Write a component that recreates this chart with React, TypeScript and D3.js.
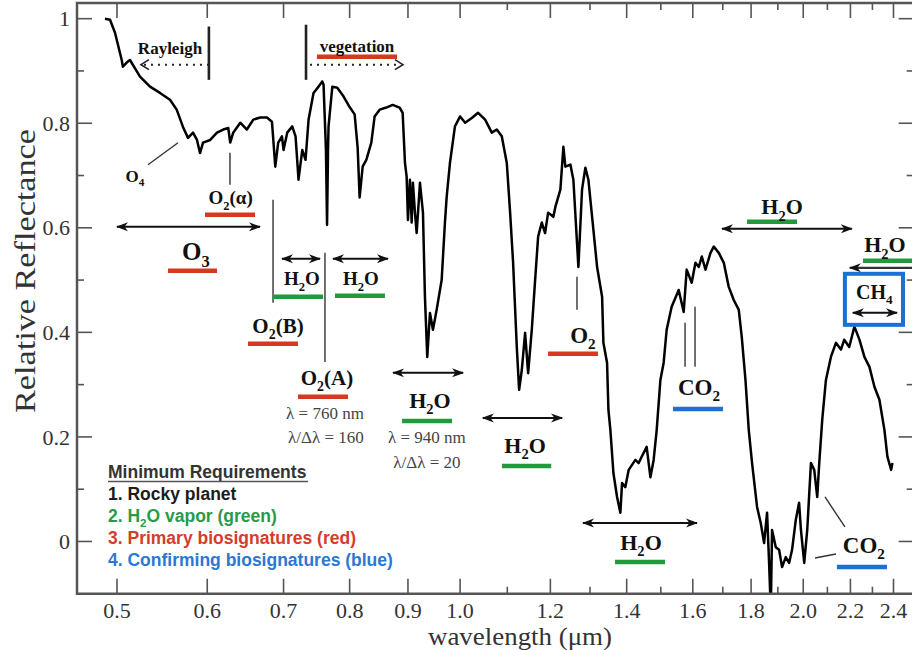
import React from 'react';
import * as d3 from 'd3';

// ---- spectrum (wavelength in µm, relative reflectance) ----
const wavelength = [
  0.488, 0.493, 0.498, 0.5048, 0.506, 0.5099, 0.5133, 0.5238, 0.5345, 0.5454, 0.5565, 0.5641, 0.5713, 0.5771, 0.583, 0.5877, 0.5913, 0.5949,
  0.6036, 0.6119, 0.6197, 0.626, 0.6285, 0.6323, 0.6414, 0.65, 0.6585, 0.6678, 0.6769, 0.6838, 0.6884, 0.6925, 0.6977,
  0.7, 0.7052, 0.7124, 0.7172, 0.7215, 0.727, 0.7318, 0.7363, 0.7437, 0.7513, 0.7569, 0.7589, 0.7626, 0.7643, 0.7658, 0.7666, 0.7725, 0.7803, 0.7903,
  0.8, 0.8081, 0.813, 0.8163, 0.8213, 0.8274, 0.8358, 0.8414, 0.85, 0.8615, 0.8726, 0.885, 0.8904,
  0.8946, 0.8976, 0.9, 0.9036, 0.9068, 0.9091, 0.9128, 0.916, 0.9221, 0.9277, 0.9314, 0.9358, 0.9409, 0.9466, 0.9537, 0.9634, 0.9698, 0.9732, 0.9797, 0.9896,
  1.0, 1.0102, 1.0239, 1.037, 1.0518, 1.0661, 1.0769, 1.0878, 1.0989, 1.1063, 1.113, 1.1213, 1.1266, 1.1327, 1.1403, 1.1473, 1.1558, 1.1636, 1.1707, 1.1794, 1.1873, 1.1946,
  1.2073, 1.2122, 1.2245, 1.232, 1.2369, 1.2495, 1.2571, 1.2699, 1.2793, 1.2879, 1.2958, 1.309, 1.3188, 1.3322, 1.3357, 1.3456, 1.3493, 1.3547, 1.363, 1.3731, 1.3823, 1.387, 1.3963,
  1.4057, 1.4248, 1.4343, 1.4431, 1.4577, 1.4687, 1.4784, 1.4875, 1.4987, 1.5086, 1.5178, 1.5332, 1.5551, 1.5709, 1.5804, 1.5965,
  1.6087, 1.6195, 1.6294, 1.6416, 1.6583, 1.6693, 1.6863, 1.7035, 1.7206, 1.7381, 1.7558, 1.7665, 1.7797, 1.7916,
  1.8036, 1.8219, 1.8356, 1.848, 1.8591, 1.8667, 1.8731, 1.8779, 1.8921, 1.9048, 1.9163, 1.9307, 1.9436, 1.9554, 1.97, 1.9833, 1.9907,
  2.004, 2.0162, 2.0314, 2.0449, 2.0574, 2.0657, 2.0783, 2.0938, 2.115, 2.1365, 2.1583, 2.1727, 2.1947,
  2.2178, 2.2404, 2.2631, 2.2861, 2.3093, 2.3327, 2.3565, 2.3708, 2.3886, 2.3949,
];
const reflectance = [
  1.0, 0.998, 0.973, 0.921, 0.908, 0.916, 0.921, 0.889, 0.87, 0.858, 0.845, 0.826, 0.793, 0.772, 0.782, 0.768, 0.743, 0.763,
  0.768, 0.782, 0.788, 0.791, 0.763, 0.782, 0.801, 0.788, 0.807, 0.811, 0.811, 0.803, 0.717, 0.763, 0.775,
  0.749, 0.782, 0.794, 0.775, 0.692, 0.749, 0.73, 0.807, 0.858, 0.87, 0.88, 0.874, 0.749, 0.606, 0.749, 0.794, 0.87, 0.868, 0.851,
  0.831, 0.817, 0.754, 0.658, 0.717, 0.73, 0.763, 0.813, 0.826, 0.83, 0.835, 0.83, 0.82,
  0.724, 0.698, 0.615, 0.692, 0.61, 0.686, 0.629, 0.59, 0.686, 0.629, 0.468, 0.353, 0.437, 0.405, 0.443, 0.5, 0.61, 0.659, 0.724, 0.794,
  0.813, 0.801, 0.81, 0.82, 0.807, 0.782, 0.788, 0.775, 0.724, 0.629, 0.533, 0.372, 0.29, 0.328, 0.399, 0.322, 0.405, 0.5, 0.583, 0.61, 0.59, 0.629,
  0.621, 0.64, 0.673, 0.755, 0.717, 0.721, 0.692, 0.525, 0.673, 0.715, 0.692, 0.596, 0.525, 0.468, 0.38, 0.342, 0.252, 0.213, 0.131, 0.085, 0.055, 0.112, 0.104,
  0.137, 0.156, 0.15, 0.162, 0.181, 0.123, 0.156, 0.213, 0.309, 0.342, 0.405, 0.449, 0.481, 0.439, 0.52, 0.495,
  0.533, 0.525, 0.545, 0.52, 0.552, 0.564, 0.552, 0.533, 0.487, 0.462, 0.443, 0.391, 0.309, 0.213,
  0.15, 0.066, 0.035, -0.003, 0.055, -0.041, -0.131, 0.022, -0.011, -0.016, -0.049, -0.03, -0.041, -0.016, 0.041, 0.074, 0.022,
  -0.041, 0.022, 0.15, 0.137, 0.085, 0.15, 0.233, 0.309, 0.353, 0.38, 0.367, 0.386, 0.372,
  0.411, 0.386, 0.353, 0.334, 0.296, 0.271, 0.213, 0.162, 0.137, 0.15,
];

// ---- axes ----
const xMajorTicks = [0.5, 0.6, 0.7, 0.8, 0.9, 1.0, 1.2, 1.4, 1.6, 1.8, 2.0, 2.2, 2.4];
const xTickLabels = ['0.5', '0.6', '0.7', '0.8', '0.9', '1.0', '1.2', '1.4', '1.6', '1.8', '2.0', '2.2', '2.4'];
const xMinorTicks = [1.1, 1.3, 1.5, 1.7, 1.9, 2.1, 2.3];
const yMajorTicks = [0, 0.2, 0.4, 0.6, 0.8, 1];
const yTickLabels = ['0', '0.2', '0.4', '0.6', '0.8', '1'];
const yMinorTicks = [0.1, 0.3, 0.5, 0.7, 0.9];

// ---- annotations (in data units) ----
const labels = [
  { t: 'Rayleigh', w: 0.5565, r: 0.944, s: 17 },
  { t: 'vegetation', w: 0.812, r: 0.948, s: 17 },
  { t: 'O_4', w: 0.5185, r: 0.6995, s: 17 },
  { t: 'O_2(α)', w: 0.629, r: 0.6574, s: 19 },
  { t: 'O_3', w: 0.5865, r: 0.556, s: 25 },
  { t: 'H_2O', w: 0.7265, r: 0.5024, s: 19 },
  { t: 'H_2O', w: 0.8183, r: 0.5024, s: 19 },
  { t: 'O_2(B)', w: 0.6922, r: 0.4124, s: 21 },
  { t: 'O_2(A)', w: 0.7642, r: 0.3129, s: 21 },
  { t: 'H_2O', w: 0.9409, r: 0.2708, s: 22 },
  { t: 'H_2O', w: 1.1403, r: 0.1847, s: 22 },
  { t: 'O_2', w: 1.2817, r: 0.3952, s: 23 },
  { t: 'H_2O', w: 1.4411, r: -0.001, s: 22 },
  { t: 'CO_2', w: 1.6203, r: 0.2957, s: 23 },
  { t: 'H_2O', w: 1.9161, r: 0.6402, s: 22 },
  { t: 'H_2O', w: 2.3589, r: 0.5675, s: 22 },
  { t: 'CH_4', w: 2.3093, r: 0.4775, s: 20 },
  { t: 'CO_2', w: 2.2608, r: -0.0067, s: 23 },
];
const notes = [
  { t: 'λ = 760 nm', w: 0.7611, r: 0.2459 },
  { t: 'λ/Δλ = 160', w: 0.7626, r: 0.2 },
  { t: 'λ = 940 nm', w: 0.9352, r: 0.2 },
  { t: 'λ/Δλ = 20', w: 0.9352, r: 0.1522 },
];
const bars = [
  { c: 'red', w0: 0.7489, w1: 0.8803, r: 0.927 },
  { c: 'red', w0: 0.5973, w1: 0.6608, r: 0.6249 },
  { c: 'red', w0: 0.5543, w1: 0.612, r: 0.5177 },
  { c: 'green', w0: 0.6853, w1: 0.7581, r: 0.468 },
  { c: 'green', w0: 0.7767, w1: 0.8591, r: 0.4699 },
  { c: 'red', w0: 0.6515, w1: 0.7207, r: 0.378 },
  { c: 'red', w0: 0.7207, w1: 0.7974, r: 0.2766 },
  { c: 'green', w0: 0.8893, w1: 0.9838, r: 0.2306 },
  { c: 'green', w0: 1.0882, w1: 1.2021, r: 0.1445 },
  { c: 'red', w0: 1.1944, w1: 1.3213, r: 0.3589 },
  { c: 'green', w0: 1.3675, w1: 1.5127, r: -0.0392 },
  { c: 'blue', w0: 1.5374, w1: 1.7007, r: 0.2536 },
  { c: 'green', w0: 1.7854, w1: 1.9751, r: 0.6115 },
  { c: 'green', w0: 2.2563, w1: 2.5, r: 0.5368 },
  { c: 'blue', w0: 2.1408, w1: 2.3685, r: -0.0488 },
];
const doubleArrows = [
  { w0: 0.5, w1: 0.6675, r: 0.6019 },
  { w0: 0.6978, w1: 0.7535, r: 0.5407 },
  { w0: 0.7736, w1: 0.8644, r: 0.5407 },
  { w0: 0.8733, w1: 1.0059, r: 0.3225 },
  { w0: 1.0472, w1: 1.2286, r: 0.2364 },
  { w0: 1.2817, w1: 1.6137, r: 0.0354 },
  { w0: 1.6973, w1: 2.2065, r: 0.5981 },
  { w0: 2.2109, w1: 2.4171, r: 0.4373 },
];
const leftArrows = [{ w0: 2.1975, w1: 2.5, r: 0.5234 }];
const dottedArrows = [
  { from: 0.6021, to: 0.5248, r: 0.912 },
  { from: 0.7384, to: 0.8909, r: 0.912 },
];
const vRules = [
  { w: 0.602, r0: 0.883, r1: 0.985, thick: true },
  { w: 0.7325, r0: 0.883, r1: 0.9885, thick: true },
  { w: 0.6282, r0: 0.6823, r1: 0.7435 },
  { w: 0.6853, r0: 0.4565, r1: 0.6536 },
  { w: 0.7611, r0: 0.3435, r1: 0.5522 },
  { w: 1.2663, r0: 0.4431, r1: 0.5062 },
  { w: 1.5752, r0: 0.334, r1: 0.4182 },
  { w: 1.6073, r0: 0.334, r1: 0.4488 },
];
const leaders = [
  { w0: 0.5323, r0: 0.7206, w1: 0.5656, r1: 0.7627 },
  { w0: 2.0899, r0: 0.0852, w1: 2.1756, r1: 0.0278 },
  { w0: 2.048, r0: -0.0316, w1: 2.1365, r1: -0.0239 },
];
const boxes = [{ w0: 2.1756, w1: 2.4465, r0: 0.4144, r1: 0.512 }];

const legendTitle = 'Minimum Requirements';
const legendItems = [
  { t: '1. Rocky planet', c: 'black' },
  { t: '2. H_2O vapor (green)', c: 'green' },
  { t: '3. Primary biosignatures (red)', c: 'red' },
  { t: '4. Confirming biosignatures (blue)', c: 'blue' },
];

const COLORS: Record<string, string> = {
  red: '#d6391f',
  green: '#229a3c',
  blue: '#1e6fd2',
  black: '#1a1a1a',
};
const LEGEND_TEXT: Record<string, string> = {
  black: '#1c1c1c',
  green: '#2a9a48',
  red: '#d43d2c',
  blue: '#2a78d4',
};

const SERIF = '"Liberation Serif", "Times New Roman", Times, serif';
const SANS = '"Liberation Sans", Arial, Helvetica, sans-serif';

function RichText(props: {
  x: number; y: number; text: string; size: number; weight?: string | number; fill?: string; family?: string; anchor?: string;
}) {
  const { x, y, text, size, weight = 'bold', fill = '#111', family = SERIF, anchor = 'middle' } = props;
  const parts = text.split(/_(\d)/);
  const kids: React.ReactNode[] = [];
  let shifted = false;
  const sh = size * 0.28;
  parts.forEach((p, i) => {
    if (i % 2 === 1) {
      kids.push(<tspan key={i} fontSize={size * 0.66} dy={sh}>{p}</tspan>);
      shifted = true;
    } else if (p.length) {
      kids.push(<tspan key={i} dy={shifted ? -sh : 0}>{p}</tspan>);
      shifted = false;
    }
  });
  return (
    <text x={x} y={y + size * 0.35} fontSize={size} fontWeight={weight} fill={fill} fontFamily={family} textAnchor={anchor}>
      {kids}
    </text>
  );
}

export default function App() {
  const W = 912, H = 650;
  const left = 77, right = 913.7, top = 3, bottom = 593.75;
  const x = d3.scaleLog().domain([0.4612, 2.5]).range([left, right]);
  const y = d3.scaleLinear().domain([-0.1, 1.03]).range([bottom, top]);

  const pts = wavelength.map((w, i) => [w, reflectance[i]] as [number, number]);
  const line = d3.line<[number, number]>().x(d => x(d[0])).y(d => y(d[1]));

  const majorLen = 15, minorLen = 7;
  const axisColor = '#555';

  return (
    <svg width={W} height={H} style={{ position: 'absolute', left: 0, top: 0, background: '#fff' }}>
      <defs>
        <clipPath id="plot">
          <rect x={left} y={top} width={right - left} height={bottom - top} />
        </clipPath>
        <marker id="ah" viewBox="0 0 12 10" refX="11" refY="5" markerWidth="12" markerHeight="10" markerUnits="userSpaceOnUse" orient="auto-start-reverse">
          <path d="M0,0.5 L12,5 L0,9.5 L3.5,5 Z" fill="#111" />
        </marker>
      </defs>
      <rect x={0} y={0} width={W} height={H} fill="#fff" />

      {/* spectrum */}
      <g clipPath="url(#plot)">
        <path d={line(pts) || ''} fill="none" stroke="#000" strokeWidth={2.5} strokeLinejoin="round" />
      </g>

      {/* frame */}
      <rect x={left} y={top} width={right - left} height={bottom - top} fill="none" stroke={axisColor} strokeWidth={2.5} />

      {/* x ticks */}
      {xMajorTicks.map((t, i) => (
        <g key={'xm' + i}>
          <line x1={x(t)} x2={x(t)} y1={bottom} y2={bottom - majorLen} stroke={axisColor} strokeWidth={1.6} />
          <line x1={x(t)} x2={x(t)} y1={top} y2={top + majorLen} stroke={axisColor} strokeWidth={1.6} />
          <text x={x(t)} y={618} textAnchor="middle" fontFamily={SERIF} fontSize={22} fill="#333">{xTickLabels[i]}</text>
        </g>
      ))}
      {xMinorTicks.map((t, i) => (
        <g key={'xn' + i}>
          <line x1={x(t)} x2={x(t)} y1={bottom} y2={bottom - minorLen} stroke={axisColor} strokeWidth={1.6} />
          <line x1={x(t)} x2={x(t)} y1={top} y2={top + minorLen} stroke={axisColor} strokeWidth={1.6} />
        </g>
      ))}
      {/* y ticks */}
      {yMajorTicks.map((t, i) => (
        <g key={'ym' + i}>
          <line x1={left} x2={left + majorLen} y1={y(t)} y2={y(t)} stroke={axisColor} strokeWidth={1.6} />
          <line x1={right} x2={right - majorLen} y1={y(t)} y2={y(t)} stroke={axisColor} strokeWidth={1.6} />
          <text x={70} y={y(t)} dy="0.35em" textAnchor="end" fontFamily={SERIF} fontSize={22} fill="#333">{yTickLabels[i]}</text>
        </g>
      ))}
      {yMinorTicks.map((t, i) => (
        <g key={'yn' + i}>
          <line x1={left} x2={left + minorLen} y1={y(t)} y2={y(t)} stroke={axisColor} strokeWidth={1.6} />
          <line x1={right} x2={right - minorLen} y1={y(t)} y2={y(t)} stroke={axisColor} strokeWidth={1.6} />
        </g>
      ))}

      {/* axis titles */}
      <text transform={`translate(35, 271) rotate(-90)`} textAnchor="middle" fontFamily={SERIF} fontSize={29} fill="#333" textLength={284} lengthAdjust="spacingAndGlyphs">Relative Reflectance</text>
      <text x={520} y={645} textAnchor="middle" fontFamily={SERIF} fontSize={26} fill="#333" textLength={184} lengthAdjust="spacingAndGlyphs">wavelength (μm)</text>

      {/* vertical rules */}
      {vRules.map((v, i) => (
        <line key={'v' + i} x1={x(v.w)} x2={x(v.w)} y1={y(v.r0)} y2={y(v.r1)} stroke={v.thick ? '#222' : '#333'} strokeWidth={v.thick ? 2.6 : 1.4} />
      ))}
      {leaders.map((l, i) => (
        <line key={'l' + i} x1={x(l.w0)} y1={y(l.r0)} x2={x(l.w1)} y2={y(l.r1)} stroke="#333" strokeWidth={1.4} />
      ))}

      {/* coloured bars */}
      {bars.map((b, i) => (
        <line key={'b' + i} x1={x(b.w0)} x2={x(b.w1)} y1={y(b.r)} y2={y(b.r)} stroke={COLORS[b.c]} strokeWidth={4.5} />
      ))}

      {/* double arrows */}
      {doubleArrows.map((a, i) => (
        <line key={'da' + i} x1={x(a.w0)} x2={x(a.w1)} y1={y(a.r)} y2={y(a.r)} stroke="#111" strokeWidth={2} markerStart="url(#ah)" markerEnd="url(#ah)" />
      ))}
      {leftArrows.map((a, i) => (
        <line key={'la' + i} x1={x(a.w0)} x2={x(a.w1)} y1={y(a.r)} y2={y(a.r)} stroke="#333" strokeWidth={2.4} markerStart="url(#ah)" />
      ))}

      {/* dotted arrows */}
      {dottedArrows.map((a, i) => {
        const x0 = x(a.from), x1 = x(a.to), yy = y(a.r);
        const dir = x1 > x0 ? 1 : -1;
        return (
          <g key={'dot' + i}>
            <line x1={x0} x2={x1 - dir * 2} y1={yy} y2={yy} stroke="#222" strokeWidth={2} strokeDasharray="2 5" />
            <polyline points={`${x1 - dir * 8},${yy - 5} ${x1},${yy} ${x1 - dir * 8},${yy + 5}`} fill="none" stroke="#222" strokeWidth={1.6} />
          </g>
        );
      })}

      {/* boxes */}
      {boxes.map((b, i) => (
        <rect key={'bx' + i} x={x(b.w0)} y={y(b.r1)} width={x(b.w1) - x(b.w0)} height={y(b.r0) - y(b.r1)} fill="none" stroke={COLORS.blue} strokeWidth={4} />
      ))}

      {/* labels */}
      {labels.map((l, i) => (
        <RichText key={'t' + i} x={x(l.w)} y={y(l.r)} text={l.t} size={l.s} />
      ))}
      {notes.map((n, i) => (
        <RichText key={'n' + i} x={x(n.w)} y={y(n.r)} text={n.t} size={17} weight="normal" fill="#444" />
      ))}

      {/* legend */}
      <g>
        <RichText x={108} y={472} text={legendTitle} size={17.5} family={SANS} anchor="start" fill="#333" />
        <line x1={108} x2={308} y1={481.5} y2={481.5} stroke="#555" strokeWidth={1.3} />
        {legendItems.map((it, i) => (
          <RichText key={'lg' + i} x={108} y={494 + i * 22} text={it.t} size={17.5} family={SANS} anchor="start" fill={LEGEND_TEXT[it.c]} />
        ))}
      </g>
    </svg>
  );
}
